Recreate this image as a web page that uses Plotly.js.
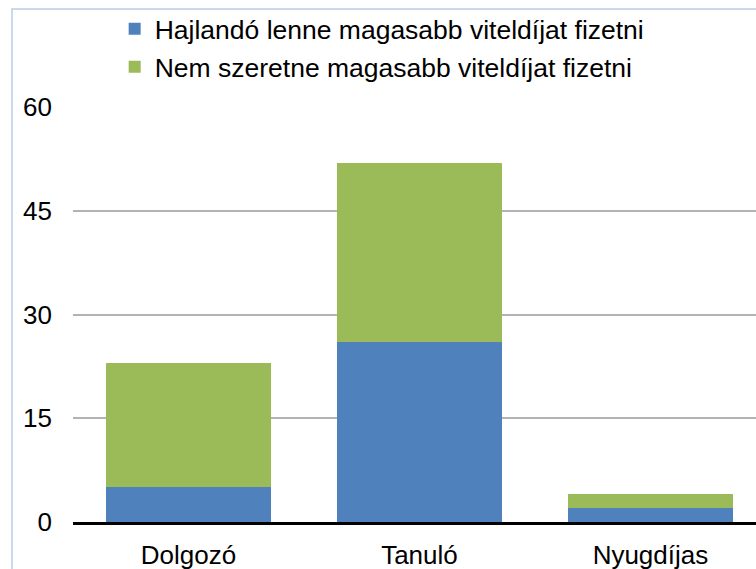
<!DOCTYPE html>
<html>
<head>
<meta charset="utf-8">
<script src="https://cdn.plot.ly/plotly-3.0.1.min.js"></script>
<style>html,body{margin:0;padding:0;background:#fff;}#chart{width:756px;height:569px;}</style>
</head>
<body>
<div id="chart"></div>
<script>
const categories = ["Dolgozó", "Tanuló", "Nyugdíjas"];
const seriesNames = ["Hajlandó lenne magasabb viteldíjat fizetni", "Nem szeretne magasabb viteldíjat fizetni"];
const willingValues = [5, 26, 2];
const notWillingValues = [18, 26, 2];
const yTickValues = [0, 15, 30, 45, 60];

const font = {family: "Liberation Sans, Arial, sans-serif", size: 26, color: "#000"};
const legendFont = {family: "Liberation Sans, Arial, sans-serif", size: 26.5, color: "#000"};

const traces = [
  {type: "bar", name: seriesNames[0], x: categories, y: willingValues,
   marker: {color: "#4f81bd"}, legend: "legend", hoverinfo: "none"},
  {type: "bar", name: seriesNames[1], x: categories, y: notWillingValues,
   marker: {color: "#9bbb59"}, legend: "legend2", hoverinfo: "none"}
];

const layout = {
  width: 756, height: 569,
  margin: {l: 73, r: 0, t: 107, b: 47, pad: 0},
  paper_bgcolor: "#fff", plot_bgcolor: "#fff",
  font: font,
  barmode: "stack",
  bargap: 0.286,
  xaxis: {
    type: "category", range: [-0.5, 2.457],
    showgrid: false, zeroline: false,
    showline: true, linecolor: "#000", linewidth: 2.5,
    ticks: "", ticklabelstandoff: 8,
    tickfont: font, fixedrange: true
  },
  yaxis: {
    range: [0, 60.05], tickvals: yTickValues,
    showgrid: true, gridcolor: "#b3b3b3", gridwidth: 2,
    zeroline: false, showline: false,
    ticks: "", ticklabelstandoff: 20,
    tickfont: font, fixedrange: true
  },
  showlegend: true,
  legend: {x: 0.061, y: 1.188, xanchor: "left", yanchor: "middle", orientation: "v",
           font: legendFont, bgcolor: "rgba(0,0,0,0)", itemwidth: 30},
  legend2: {x: 0.061, y: 1.0965, xanchor: "left", yanchor: "middle", orientation: "v",
           font: legendFont, bgcolor: "rgba(0,0,0,0)", itemwidth: 30},
  shapes: [
    {type: "rect", xref: "paper", yref: "paper", x0: -0.0893, x1: 1.2, y0: -0.3, y1: 1.236,
     line: {color: "#b9cde5", width: 1.5}, fillcolor: "rgba(0,0,0,0)", layer: "below"}
  ]
};

Plotly.newPlot("chart", traces, layout, {displayModeBar: false, staticPlot: true});
</script>
</body>
</html>
